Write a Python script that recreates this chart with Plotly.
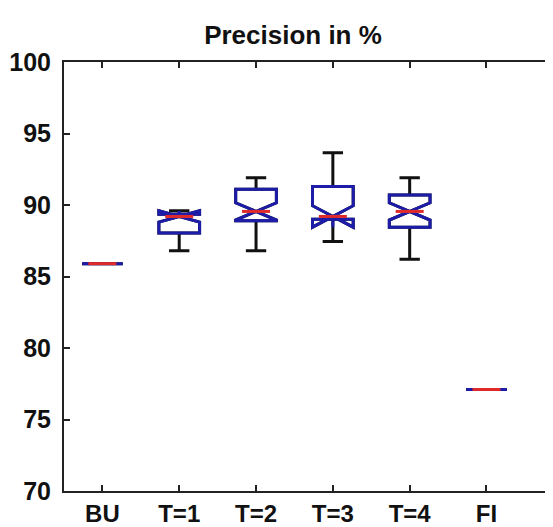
import plotly.graph_objects as go

categories = ["BU", "T=1", "T=2", "T=3", "T=4", "FI"]
lower_whisker = [85.9, 86.8, 86.8, 87.45, 86.2, 77.1]
q1_values = [85.9, 88.05, 88.9, 89.0, 88.45, 77.1]
median_values = [85.9, 89.2, 89.55, 89.2, 89.55, 77.1]
q3_values = [85.9, 89.35, 91.1, 91.3, 90.7, 77.1]
upper_whisker = [85.9, 89.6, 91.9, 93.65, 91.9, 77.1]
notch_half = [0.0, 0.4, 0.6, 0.75, 0.6, 0.0]
y_ticks = [70, 75, 80, 85, 90, 95, 100]

FONT = "Liberation Sans, Arial, sans-serif"
BLUE = "#1c1ca8"
RED = "#e02a2a"
BOX_W = 0.53
# the page body adds an 8px offset; margins compensate for it
OFF = 8

fig = go.Figure()

# whiskers (black)
fig.add_trace(go.Box(
    x=categories, q1=q1_values, median=median_values, q3=q3_values,
    lowerfence=lower_whisker, upperfence=upper_whisker, notchspan=notch_half,
    notched=True, notchwidth=0.5, width=BOX_W, whiskerwidth=0.5,
    line=dict(color="#111111", width=3), fillcolor="rgba(0,0,0,0)",
    boxpoints=False, showlegend=False, hoverinfo="skip"))

# boxes (blue)
fig.add_trace(go.Box(
    x=categories, q1=q1_values, median=median_values, q3=q3_values,
    lowerfence=q1_values, upperfence=q3_values, notchspan=notch_half,
    notched=True, notchwidth=0.5, width=BOX_W, whiskerwidth=0,
    line=dict(color=BLUE, width=3), fillcolor="rgba(255,255,255,0)",
    boxpoints=False, showlegend=False, hoverinfo="skip"))

# red medians
fig.add_trace(go.Scatter(
    x=categories, y=median_values, mode="markers",
    marker=dict(symbol="line-ew", size=20, line=dict(color=RED, width=3)),
    showlegend=False, hoverinfo="skip"))

fig.update_layout(
    width=553, height=527,
    margin=dict(l=64 - OFF, r=0, t=62 - OFF, b=527 - (491 - OFF)),
    paper_bgcolor="white", plot_bgcolor="white",
    boxmode="overlay",
    title=dict(text="Precision in %", x=(293 - OFF) / 553, xref="container", xanchor="center",
               y=1 - (35 - OFF) / 527, yref="container", yanchor="middle",
               font=dict(family=FONT, size=26, color="#111111", weight="bold")),
    xaxis=dict(type="category", range=[-0.5, 5.97], showgrid=False, zeroline=False,
               showline=True, linecolor="#222222", linewidth=2, mirror="ticks",
               ticks="inside", ticklen=6, tickwidth=2, tickcolor="#222222",
               ticklabelstandoff=0,
               tickfont=dict(family=FONT, size=24, color="#111111", weight="bold")),
    yaxis=dict(range=[70, 100], tickvals=y_ticks, showgrid=False, zeroline=False,
               showline=True, linecolor="#222222", linewidth=2,
               ticks="inside", ticklen=6, tickwidth=2, tickcolor="#222222",
               ticklabelstandoff=6,
               tickfont=dict(family=FONT, size=25, color="#111111", weight="bold")),
)

fig.write_html("out.html")
